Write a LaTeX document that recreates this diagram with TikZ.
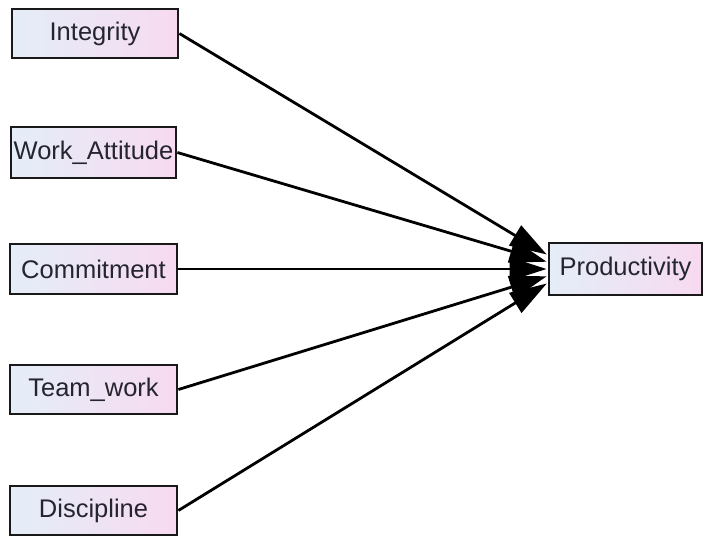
\documentclass[tikz,border=0pt]{standalone}
\usepackage{fontspec}
\setmainfont{Liberation Sans}
\usetikzlibrary{arrows.meta}
\definecolor{boxleft}{HTML}{E4EDF8}
\definecolor{boxright}{HTML}{F7DAF0}
\definecolor{txt}{HTML}{25252F}
\begin{document}
\begin{tikzpicture}[x=1pt,y=-1pt,
  var/.style={draw=black!90,line width=2.8pt,left color=boxleft,right color=boxright,
    minimum width=166pt,minimum height=49pt,inner sep=0pt,text=txt,
    font=\fontsize{25.5}{29}\selectfont},
  conn/.style={line width=2.8pt,-{Triangle[length=37pt,width=23pt]},shorten >=1pt}]
\useasboundingbox (0,0) rectangle (707,536);
\node[var] (int) at (95,33.5) {Integrity};
\node[var,minimum width=165pt,minimum height=51pt] (wa) at (93.5,152.5) {Work\_Attitude};
\node[var,minimum width=167pt,minimum height=50pt] (com) at (93.5,269) {Commitment};
\node[var,minimum width=167pt] (tw) at (93.5,389.5) {Team\_work};
\node[var,minimum width=167pt] (dis) at (93.5,510.5) {Discipline};
\node[var,minimum width=153pt,minimum height=52pt] (prod) at (625.5,269) {Productivity};
\coordinate (p1) at ([yshift=14pt]prod.west);
\coordinate (p2) at ([yshift=7pt]prod.west);
\coordinate (p4) at ([yshift=-7pt]prod.west);
\coordinate (p5) at ([yshift=-14pt]prod.west);
\draw[conn] (int.east) -- (p1);
\draw[conn] (wa.east) -- (p2);
\draw[conn] (com.east) -- (prod.west);
\draw[conn] (tw.east) -- (p4);
\draw[conn] (dis.east) -- (p5);
\end{tikzpicture}
\end{document}
